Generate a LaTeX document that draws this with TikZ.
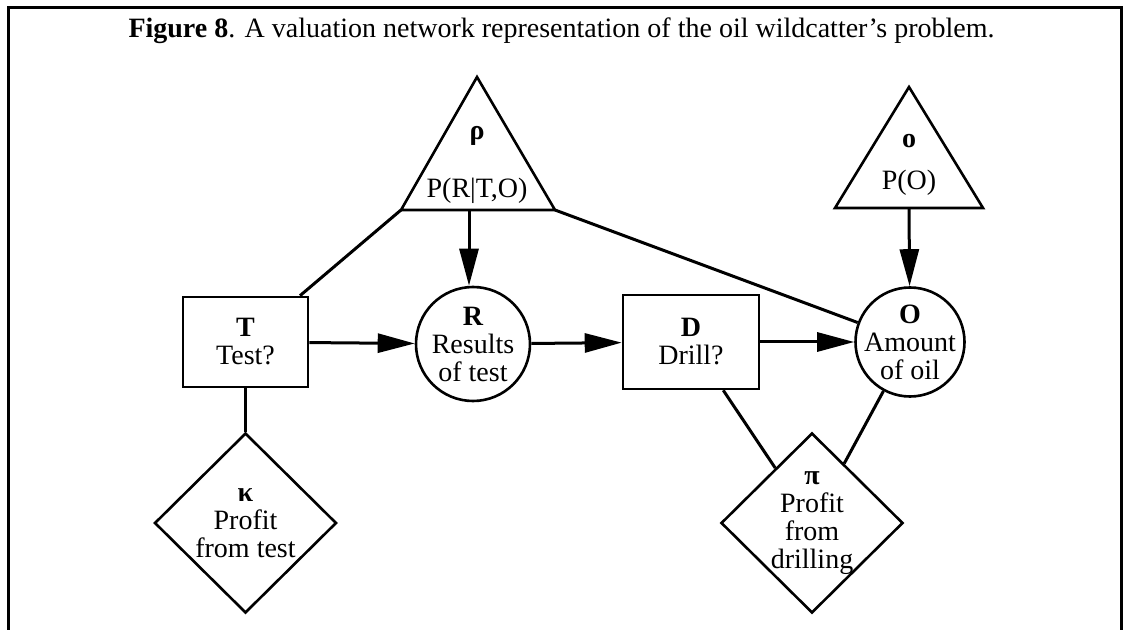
\documentclass[tikz,border=0pt]{standalone}
\usepackage{fontspec}
\setmainfont{Liberation Serif}
\usetikzlibrary{shapes.geometric}
\usetikzlibrary{arrows.meta}

\begin{document}
\begin{tikzpicture}[
  x=0.5pt, y=-0.5pt,
  every node/.style={font=\fontsize{14}{14}\selectfont, inner sep=0pt},
  decision/.style={draw, line width=1.3pt, rectangle, align=center},
  chance/.style={draw, line width=1.3pt, circle, align=center, inner sep=-4pt},
  utility/.style={draw, line width=1.3pt, diamond, align=center, inner sep=-4pt,
    minimum width=91pt, minimum height=90pt},
  potential/.style={draw, line width=1.3pt, line join=miter},
  link/.style={line width=1.5pt},
  arc/.style={line width=1.5pt, -{Triangle[length=18.5pt,width=9.5pt]}},
]
  \useasboundingbox (0,0) rectangle (1123,630);
  \draw[line width=1.6pt] (8.5,640) -- (8.5,7.5) -- (1121.5,7.5) -- (1121.5,640);

  \node[anchor=base] (title) at (561.5,38)
    {\textbf{Figure 8}. A valuation network representation of the oil wildcatter’s problem.};

  % potentials
  \coordinate (rhoA) at (477,77);
  \coordinate (rhoL) at (401,210);
  \coordinate (rhoR) at (555,210);
  \coordinate (rhoB) at (469,210);
  \draw[potential] (rhoA) -- (rhoL) -- (rhoR) -- cycle;
  \node[anchor=base] (rholbl) at (477,140) {\textbf{ρ}};
  \node[anchor=base] (rhotxt) at (477,198) {P(R|T,O)};

  \coordinate (omA) at (909,87);
  \coordinate (omL) at (835,208);
  \coordinate (omR) at (983,208);
  \coordinate (omB) at (909,208);
  \draw[potential] (omA) -- (omL) -- (omR) -- cycle;
  \node[anchor=base] (omlbl) at (909,148) {\textbf{o}};
  \node[anchor=base] (omtxt) at (909,190) {P(O)};

  % variables and utilities
  \node[decision, minimum width=62.5pt, minimum height=45pt] (T) at (245.5,342) {\textbf{T}\\Test?};
  \node[chance, minimum size=57pt] (R) at (473,344) {\textbf{R}\\Results\\of test};
  \node[decision, minimum width=68pt, minimum height=47pt] (D) at (691,342) {\textbf{D}\\Drill?};
  \node[chance, minimum size=54.5pt] (O) at (910,342) {\textbf{O}\\Amount\\of oil};
  \node[utility] (kappa) at (245.5,523) {\textbf{κ}\\Profit\\from test};
  \node[utility] (pi) at (812,523) {\textbf{π}\\Profit\\from\\drilling};

  \draw[arc] (rhoB) -- (rhoB |- R.north);
  \draw[arc] (omB) -- (O);
  \draw[arc] (T) -- (R);
  \draw[arc] (R) -- (D);
  \draw[arc] (D) -- (O);

  \draw[link] (rhoL) -- (T);
  \draw[link] (rhoR) -- (O);
  \draw[link] (T) -- (kappa);
  \draw[link] (D) -- (pi);
  \draw[link] (O) -- (pi);
\end{tikzpicture}
\end{document}
